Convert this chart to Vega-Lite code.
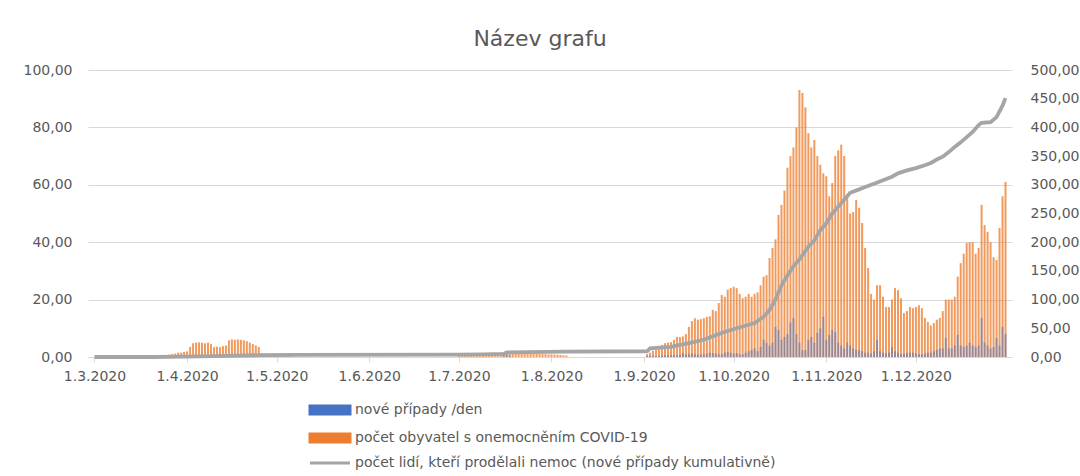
{
"$schema": "https://vega.github.io/schema/vega-lite/v6.json",
"width": 924, "height": 287,
"autosize": {"type": "none"},
"padding": {"left": 88, "top": 70, "right": 68, "bottom": 119},
"background": "white",
"config": {"view": {"stroke": null}, "font": "DejaVu Sans"},
"title": {"text": "Název grafu", "fontSize": 22, "font": "DejaVu Sans", "fontWeight": "normal", "color": "#595959", "anchor": "middle", "frame": "group", "baseline": "alphabetic", "dx": -10, "dy": 31, "offset": 26},
"data": {"values": [
{"d":"2020-03-01","c":0},
{"d":"2020-03-21","o":0.3,"c":0},
{"d":"2020-03-22","o":0.3},
{"d":"2020-03-23","o":0.5},
{"d":"2020-03-24","o":0.5},
{"d":"2020-03-25","o":0.7},
{"d":"2020-03-26","o":0.8},
{"d":"2020-03-27","o":1.0},
{"d":"2020-03-28","o":1.2},
{"d":"2020-03-29","o":1.5},
{"d":"2020-03-30","o":1.5},
{"d":"2020-03-31","o":1.8,"c":0.6},
{"d":"2020-04-01","o":2.0},
{"d":"2020-04-02","o":3.5},
{"d":"2020-04-03","o":4.8},
{"d":"2020-04-04","o":5.0},
{"d":"2020-04-05","o":5.1},
{"d":"2020-04-06","o":5.0},
{"d":"2020-04-07","o":4.8},
{"d":"2020-04-08","o":5.0},
{"d":"2020-04-09","o":4.5},
{"d":"2020-04-10","o":3.5,"c":1.6},
{"d":"2020-04-11","o":3.6},
{"d":"2020-04-12","o":3.4},
{"d":"2020-04-13","o":3.8},
{"d":"2020-04-14","o":4.0},
{"d":"2020-04-15","o":5.8},
{"d":"2020-04-16","o":6.1},
{"d":"2020-04-17","o":6.0},
{"d":"2020-04-18","o":6.1},
{"d":"2020-04-19","o":6.0},
{"d":"2020-04-20","o":5.8,"c":2.6},
{"d":"2020-04-21","o":5.5},
{"d":"2020-04-22","o":5.0},
{"d":"2020-04-23","o":4.5},
{"d":"2020-04-24","o":4.0},
{"d":"2020-04-25","o":3.5},
{"d":"2020-04-26","o":1.2,"c":3.2},
{"d":"2020-04-27","o":1.0},
{"d":"2020-04-28","o":1.0},
{"d":"2020-04-29","o":0.8},
{"d":"2020-04-30","o":0.8},
{"d":"2020-05-01","o":0.7},
{"d":"2020-05-02","o":0.6},
{"d":"2020-05-03","o":0.6},
{"d":"2020-05-04","o":0.5},
{"d":"2020-05-05","o":0.5},
{"d":"2020-05-06","o":0.4,"c":3.6},
{"d":"2020-06-30","c":4},
{"d":"2020-07-01","o":1.0},
{"d":"2020-07-02","o":1.1},
{"d":"2020-07-03","o":1.0},
{"d":"2020-07-04","o":1.1},
{"d":"2020-07-05","o":1.2},
{"d":"2020-07-06","o":1.1},
{"d":"2020-07-07","o":1.2},
{"d":"2020-07-08","o":1.2},
{"d":"2020-07-09","o":1.3,"c":4.6},
{"d":"2020-07-10","o":1.2},
{"d":"2020-07-11","o":1.2},
{"d":"2020-07-12","o":1.3},
{"d":"2020-07-13","o":1.3},
{"d":"2020-07-14","o":1.4},
{"d":"2020-07-15","o":1.5},
{"d":"2020-07-16","o":1.6,"b":0.8,"c":5.5},
{"d":"2020-07-17","o":1.7,"b":1.0,"c":8},
{"d":"2020-07-18","o":1.6,"b":0.6},
{"d":"2020-07-19","o":1.5},
{"d":"2020-07-20","o":1.4},
{"d":"2020-07-21","o":1.4},
{"d":"2020-07-22","o":1.3},
{"d":"2020-07-23","o":1.3},
{"d":"2020-07-24","o":1.4},
{"d":"2020-07-25","o":1.3},
{"d":"2020-07-26","o":1.2},
{"d":"2020-07-27","o":1.2},
{"d":"2020-07-28","o":1.1},
{"d":"2020-07-29","o":1.0},
{"d":"2020-07-30","o":1.0},
{"d":"2020-07-31","o":0.9},
{"d":"2020-08-01","o":0.9},
{"d":"2020-08-02","o":0.8},
{"d":"2020-08-03","o":0.8},
{"d":"2020-08-04","o":0.7},
{"d":"2020-08-05","o":0.6},
{"d":"2020-08-06","o":0.5,"c":9.5},
{"d":"2020-09-02","o":1.0,"b":0.3,"c":10},
{"d":"2020-09-03","o":1.5,"b":0.4,"c":15},
{"d":"2020-09-04","o":2.2,"b":0.4},
{"d":"2020-09-05","o":2.5,"b":0.3},
{"d":"2020-09-06","o":3.2,"b":0.3},
{"d":"2020-09-07","o":4.2,"b":0.5},
{"d":"2020-09-08","o":4.8,"b":0.5},
{"d":"2020-09-09","o":5.0,"b":0.6},
{"d":"2020-09-10","o":5.2,"b":0.6,"c":17.5},
{"d":"2020-09-11","o":6.0,"b":0.7},
{"d":"2020-09-12","o":7.0,"b":0.5},
{"d":"2020-09-13","o":7.0,"b":0.8},
{"d":"2020-09-14","o":7.2,"b":1.4},
{"d":"2020-09-15","o":8.0,"b":0.9},
{"d":"2020-09-16","o":10.5,"b":1.0,"c":24},
{"d":"2020-09-17","o":12.5,"b":1.2},
{"d":"2020-09-18","o":13.5,"b":1.0},
{"d":"2020-09-19","o":13.0,"b":0.8},
{"d":"2020-09-20","o":13.2,"b":0.8},
{"d":"2020-09-21","o":13.5,"b":1.0,"c":30},
{"d":"2020-09-22","o":14.0,"b":1.2},
{"d":"2020-09-23","o":14.2,"b":1.5},
{"d":"2020-09-24","o":16.4,"b":1.4},
{"d":"2020-09-25","o":16.0,"b":1.2},
{"d":"2020-09-26","o":18.8,"b":1.0},
{"d":"2020-09-27","o":21.6,"b":1.0,"c":42},
{"d":"2020-09-28","o":21.0,"b":1.5},
{"d":"2020-09-29","o":23.5,"b":1.8},
{"d":"2020-09-30","o":24.0,"b":1.5},
{"d":"2020-10-01","o":24.5,"b":1.2},
{"d":"2020-10-02","o":24.0,"b":1.4,"c":50},
{"d":"2020-10-03","o":22.0,"b":1.0},
{"d":"2020-10-04","o":20.5,"b":1.0},
{"d":"2020-10-05","o":21.0,"b":1.5},
{"d":"2020-10-06","o":22.0,"b":2.0},
{"d":"2020-10-07","o":21.0,"b":2.5},
{"d":"2020-10-08","o":22.0,"b":3.0,"c":59},
{"d":"2020-10-09","o":22.5,"b":2.0},
{"d":"2020-10-10","o":25.0,"b":3.5},
{"d":"2020-10-11","o":28.0,"b":6.0,"c":70},
{"d":"2020-10-12","o":28.5,"b":5.0},
{"d":"2020-10-13","o":34.5,"b":4.0,"c":82},
{"d":"2020-10-14","o":38.0,"b":5.0},
{"d":"2020-10-15","o":41.0,"b":10.5,"c":100},
{"d":"2020-10-16","o":49.5,"b":9.4},
{"d":"2020-10-17","o":53.0,"b":6.0,"c":125},
{"d":"2020-10-18","o":58.0,"b":7.0},
{"d":"2020-10-19","o":66.0,"b":8.0,"c":142},
{"d":"2020-10-20","o":70.0,"b":12.0},
{"d":"2020-10-21","o":73.0,"b":13.6,"c":158},
{"d":"2020-10-22","o":80.0,"b":8.0},
{"d":"2020-10-23","o":93.0,"b":5.0,"c":170},
{"d":"2020-10-24","o":92.0,"b":2.4},
{"d":"2020-10-25","o":87.0,"b":2.4},
{"d":"2020-10-26","o":78.0,"b":6.0,"c":192},
{"d":"2020-10-27","o":73.0,"b":7.0},
{"d":"2020-10-28","o":75.6,"b":5.0,"c":203},
{"d":"2020-10-29","o":70.0,"b":8.4},
{"d":"2020-10-30","o":67.0,"b":10.0,"c":221},
{"d":"2020-10-31","o":64.0,"b":14.0},
{"d":"2020-11-01","o":63.0,"b":6.0,"c":233},
{"d":"2020-11-02","o":56.0,"b":7.7},
{"d":"2020-11-03","o":60.6,"b":9.4,"c":250},
{"d":"2020-11-04","o":70.0,"b":8.7},
{"d":"2020-11-05","o":72.0,"b":5.0},
{"d":"2020-11-06","o":74.0,"b":4.0,"c":268},
{"d":"2020-11-07","o":70.0,"b":3.0},
{"d":"2020-11-08","o":56.0,"b":5.0},
{"d":"2020-11-09","o":50.0,"b":4.0,"c":286},
{"d":"2020-11-10","o":50.5,"b":3.0},
{"d":"2020-11-11","o":54.7,"b":2.5},
{"d":"2020-11-12","o":52.0,"b":2.4,"c":292},
{"d":"2020-11-13","o":46.7,"b":2.0},
{"d":"2020-11-14","o":38.0,"b":1.5,"c":296},
{"d":"2020-11-15","o":31.0,"b":1.5},
{"d":"2020-11-16","o":22.0,"b":1.2},
{"d":"2020-11-17","o":20.0,"b":2.0,"c":302},
{"d":"2020-11-18","o":25.0,"b":6.0},
{"d":"2020-11-19","o":25.0,"b":2.0},
{"d":"2020-11-20","o":21.0,"b":1.5,"c":308},
{"d":"2020-11-21","o":17.4,"b":1.2},
{"d":"2020-11-22","o":17.4,"b":1.5},
{"d":"2020-11-23","o":20.0,"b":3.5,"c":314},
{"d":"2020-11-24","o":24.0,"b":2.0},
{"d":"2020-11-25","o":23.3,"b":1.5,"c":320},
{"d":"2020-11-26","o":20.5,"b":1.0},
{"d":"2020-11-27","o":15.3,"b":1.2},
{"d":"2020-11-28","o":16.0,"b":1.5,"c":325},
{"d":"2020-11-29","o":17.4,"b":1.5},
{"d":"2020-11-30","o":17.0,"b":1.5},
{"d":"2020-12-01","o":17.4,"b":1.2,"c":329},
{"d":"2020-12-02","o":18.0,"b":1.0},
{"d":"2020-12-03","o":17.0,"b":1.0},
{"d":"2020-12-04","o":13.6,"b":1.2,"c":334},
{"d":"2020-12-05","o":12.2,"b":1.5},
{"d":"2020-12-06","o":11.0,"b":1.5,"c":338},
{"d":"2020-12-07","o":11.8,"b":2.0},
{"d":"2020-12-08","o":13.0,"b":2.5,"c":344},
{"d":"2020-12-09","o":13.6,"b":3.0},
{"d":"2020-12-10","o":16.0,"b":3.0,"c":349},
{"d":"2020-12-11","o":20.0,"b":6.6},
{"d":"2020-12-12","o":20.0,"b":3.0,"c":357},
{"d":"2020-12-13","o":20.0,"b":3.0},
{"d":"2020-12-14","o":21.0,"b":4.0,"c":366},
{"d":"2020-12-15","o":28.0,"b":7.7},
{"d":"2020-12-16","o":32.7,"b":4.0,"c":374},
{"d":"2020-12-17","o":36.0,"b":3.5},
{"d":"2020-12-18","o":39.7,"b":4.0,"c":383},
{"d":"2020-12-19","o":40.0,"b":5.0},
{"d":"2020-12-20","o":40.0,"b":4.0,"c":392},
{"d":"2020-12-21","o":36.0,"b":3.5},
{"d":"2020-12-22","o":38.0,"b":4.0,"c":404},
{"d":"2020-12-23","o":53.0,"b":13.6,"c":408},
{"d":"2020-12-24","o":46.0,"b":5.0},
{"d":"2020-12-25","o":43.6,"b":4.0},
{"d":"2020-12-26","o":40.0,"b":3.0,"c":409},
{"d":"2020-12-27","o":34.8,"b":3.5},
{"d":"2020-12-28","o":33.8,"b":6.6,"c":418},
{"d":"2020-12-29","o":45.0,"b":4.0},
{"d":"2020-12-30","o":56.0,"b":10.5,"c":438},
{"d":"2020-12-31","o":61.0,"b":8.0,"c":451}
]},
"encoding": {
  "x": {"field": "d", "type": "temporal",
    "scale": {"type": "utc", "domain": [{"year": 2020, "month": 2, "date": 29, "hours": 12, "utc": true}, {"year": 2020, "month": 12, "date": 31, "hours": 12, "utc": true}]},
    "axis": {"title": null, "grid": false, "domain": true, "domainColor": "#d9d9d9", "ticks": true, "tickSize": 5, "tickColor": "#d9d9d9",
      "values": [{"year":2020,"month":3,"date":1,"utc":true},{"year":2020,"month":4,"date":1,"utc":true},{"year":2020,"month":5,"date":1,"utc":true},{"year":2020,"month":6,"date":1,"utc":true},{"year":2020,"month":7,"date":1,"utc":true},{"year":2020,"month":8,"date":1,"utc":true},{"year":2020,"month":9,"date":1,"utc":true},{"year":2020,"month":10,"date":1,"utc":true},{"year":2020,"month":11,"date":1,"utc":true},{"year":2020,"month":12,"date":1,"utc":true}],
      "labelExpr": "utcFormat(datum.value, '%-d.%-m.%Y')", "labelFont": "DejaVu Sans", "labelFontSize": 14, "labelColor": "#595959", "labelPadding": 7, "labelOverlap": false, "labelFlush": false}}
},
"layer": [
  {"layer": [
    {"mark": {"type": "bar", "size": 2, "opacity": 0.78},
     "encoding": {
       "y": {"field": "o", "type": "quantitative", "scale": {"domain": [0, 100]},
         "axis": {"title": null, "orient": "left", "values": [0,10,20,30,40,50,60,70,80,90,100], "labelExpr": "replace(format(datum.value, '.2f'), '.', ',')", "domain": false, "ticks": false, "grid": true, "gridColor": "#d9d9d9", "labelFont": "DejaVu Sans", "labelFontSize": 14, "labelColor": "#595959", "labelPadding": 16}},
       "color": {"datum": "počet obyvatel s onemocněním COVID-19",
         "scale": {"domain": ["nové případy /den", "počet obyvatel s onemocněním COVID-19", "počet lidí, kteří prodělali nemoc (nové případy kumulativně)"], "range": ["#4472C4", "#ED7D31", "#A5A5A5"]},
         "legend": {"title": null, "orient": "none", "legendX": 235, "legendY": 333, "direction": "vertical", "symbolSize": 100, "symbolOpacity": 1, "labelFont": "DejaVu Sans", "labelFontSize": 14, "labelColor": "#595959", "labelOffset": 18, "rowPadding": 8, "labelLimit": 700, "padding": 0,
           "encode": {"symbols": {"update": {
             "shape": {"signal": "datum.value == 'počet lidí, kteří prodělali nemoc (nové případy kumulativně)' ? 'M-4,0H4' : 'M-4,-0.8H4V0.8H-4Z'"},
             "fill": {"signal": "datum.value == 'počet lidí, kteří prodělali nemoc (nové případy kumulativně)' ? 'transparent' : scale('color', datum.value)"},
             "stroke": {"signal": "datum.value == 'počet lidí, kteří prodělali nemoc (nové případy kumulativně)' ? scale('color', datum.value) : 'transparent'"},
             "strokeWidth": {"value": 3},
             "opacity": {"value": 1}}}}}}
     }},
    {"mark": {"type": "bar", "size": 2, "opacity": 0.5},
     "encoding": {
       "y": {"field": "b", "type": "quantitative"},
       "color": {"datum": "nové případy /den"}
     }}
  ]},
  {"mark": {"type": "line", "strokeWidth": 3.8},
   "transform": [{"filter": "isValid(datum.c)"}],
   "encoding": {
     "y": {"field": "c", "type": "quantitative", "scale": {"domain": [0, 500]},
       "axis": {"title": null, "orient": "right", "values": [0,50,100,150,200,250,300,350,400,450,500], "labelExpr": "replace(format(datum.value, '.2f'), '.', ',')", "domain": false, "ticks": false, "grid": false, "labelFont": "DejaVu Sans", "labelFontSize": 14, "labelColor": "#595959", "labelPadding": 18}},
     "color": {"datum": "počet lidí, kteří prodělali nemoc (nové případy kumulativně)"}
   }}
],
"resolve": {"scale": {"y": "independent"}}
}
